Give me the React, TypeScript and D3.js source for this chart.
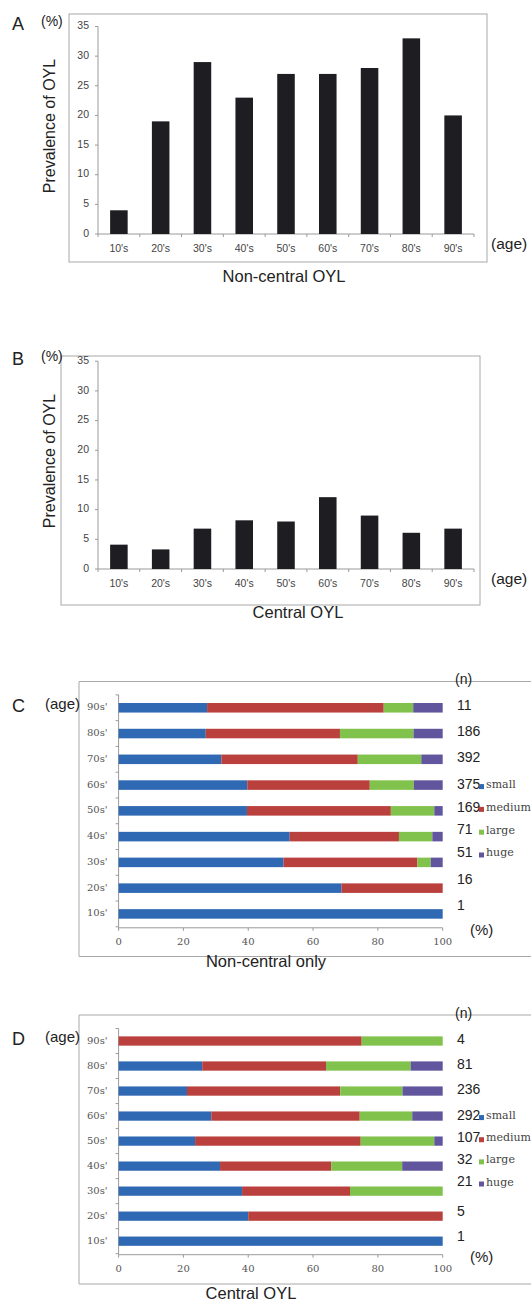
import React from 'react';
import * as d3 from 'd3';

// ---------- DATA ----------
const ageDecades = ["10's", "20's", "30's", "40's", "50's", "60's", "70's", "80's", "90's"];
const nonCentralPrevalence = [4, 19, 29, 23, 27, 27, 28, 33, 20];
const centralPrevalence = [4.1, 3.3, 6.8, 8.2, 8.0, 12.1, 9.0, 6.1, 6.8];
const prevalenceTicks = [0, 5, 10, 15, 20, 25, 30, 35];

const sizeAges = ["10s'", "20s'", "30s'", "40s'", "50s'", "60s'", "70s'", "80s'", "90s'"];
const sizeKeys = ["small", "medium", "large", "huge"];
const percentTicks = [0, 20, 40, 60, 80, 100];

// Non-central only (percent of each size class per age group)
const ncSmall = [100, 68.8, 50.9, 52.8, 39.6, 39.7, 31.7, 26.9, 27.3];
const ncMedium = [0, 31.2, 41.3, 33.7, 44.4, 37.8, 42.1, 41.4, 54.5];
const ncLarge = [0, 0, 4.1, 10.3, 13.4, 13.6, 19.6, 22.7, 9.1];
const ncHuge = [0, 0, 3.7, 3.2, 2.6, 8.9, 6.6, 9.0, 9.1];
const ncN = [1, 16, 51, 71, 169, 375, 392, 186, 11];

// Central OYL
const cSmall = [100, 40, 38.1, 31.3, 23.6, 28.6, 21.1, 25.8, 0];
const cMedium = [0, 60, 33.3, 34.3, 51.1, 45.8, 47.3, 38.2, 75];
const cLarge = [0, 0, 28.6, 21.9, 22.7, 16.2, 19.2, 26.1, 25];
const cHuge = [0, 0, 0, 12.5, 2.6, 9.4, 12.4, 9.9, 0];
const cN = [1, 5, 21, 32, 107, 292, 236, 81, 4];

// ---------- STYLE ----------
const SANS = "'Liberation Sans', Arial, sans-serif";
const SERIF = "'DejaVu Serif', serif";
const sizeColors = ['#3069b3', '#b9403d', '#80c24c', '#61569e'];
const barDark = '#1e1e22';
const frameColor = '#a8a8a8';
const axisColor = '#9a9a9a';

type BarProps = {
  values: number[];
  letter: string;
  title: string;
  frame: { x: number; y: number; w: number; h: number };
  xRange: [number, number];
  yRange: [number, number];
  titleX: number;
  titleY: number;
  yLabelY: number;
};

function PrevalenceChart(p: BarProps) {
  const x = d3.scaleBand<string>().domain(ageDecades).range(p.xRange).paddingInner(0.58).paddingOuter(0.29);
  const y = d3.scaleLinear().domain([0, 35]).range(p.yRange);
  const step = x.step();
  const boundaries = d3.range(ageDecades.length + 1).map((i) => p.xRange[0] + i * step);
  const y0 = y(0);
  return (
    <g>
      <rect x={p.frame.x} y={p.frame.y} width={p.frame.w} height={p.frame.h} fill="none" stroke={frameColor} strokeWidth={1} />
      <text x={12} y={p.yRange[1] - 1} fontFamily={SANS} fontSize={18} dominantBaseline="middle" fill="#222">{p.letter}</text>
      <text x={41} y={p.yRange[1] - 4} fontFamily={SANS} fontSize={14} dominantBaseline="middle" fill="#222">(%)</text>
      <text transform={`translate(51,${p.yLabelY}) rotate(-90)`} fontFamily={SANS} fontSize={16} textAnchor="middle" dominantBaseline="middle" fill="#222">Prevalence of OYL</text>
      {/* y axis */}
      <line x1={p.xRange[0]} x2={p.xRange[0]} y1={y(35)} y2={y0} stroke={axisColor} />
      {prevalenceTicks.map((t) => (
        <g key={t}>
          <line x1={p.xRange[0] - 3} x2={p.xRange[0]} y1={y(t)} y2={y(t)} stroke={axisColor} />
          <text x={p.xRange[0] - 9} y={y(t)} fontFamily={SANS} fontSize={10.5} textAnchor="end" dominantBaseline="middle" fill="#444">{t}</text>
        </g>
      ))}
      {/* x axis */}
      <line x1={p.xRange[0]} x2={p.xRange[1]} y1={y0} y2={y0} stroke={axisColor} />
      {boundaries.map((b, i) => (
        <line key={i} x1={b} x2={b} y1={y0} y2={y0 + 3} stroke={axisColor} />
      ))}
      {ageDecades.map((a, i) => (
        <g key={a}>
          <rect x={x(a)} y={y(p.values[i])} width={x.bandwidth()} height={y0 - y(p.values[i])} fill={barDark} />
          <text x={(x(a) as number) + x.bandwidth() / 2} y={y0 + 15} fontFamily={SANS} fontSize={10.5} textAnchor="middle" dominantBaseline="middle" fill="#444">{a}</text>
        </g>
      ))}
      <text x={491} y={y0 + 11} fontFamily={SANS} fontSize={15.5} dominantBaseline="middle" fill="#222">(age)</text>
      <text x={p.titleX} y={p.titleY} fontFamily={SANS} fontSize={16.5} textAnchor="middle" dominantBaseline="middle" fill="#222">{p.title}</text>
    </g>
  );
}

type SizeProps = {
  letter: string;
  title: string;
  series: number[][];
  n: number[];
  frame: { x: number; y: number; w: number; h: number };
  xRange: [number, number];
  yRange: [number, number];
  titleX: number;
  titleY: number;
  lowShift: number;
};

function SizeChart(p: SizeProps) {
  const order = sizeAges.slice().reverse();
  const y = d3.scaleBand<string>().domain(order).range(p.yRange).paddingInner(0.63).paddingOuter(0.315);
  const x = d3.scaleLinear().domain([0, 100]).range(p.xRange);
  const stacked = sizeAges.map((age, i) => {
    let acc = 0;
    return sizeKeys.map((k, s) => {
      const v = p.series[s][i];
      const seg = { key: k, x0: acc, x1: acc + v, color: sizeColors[s] };
      acc += v;
      return seg;
    });
  });
  const step = y.step();
  const axisY = p.yRange[1] + 1;
  const boundaries = d3.range(sizeAges.length + 1).map((i) => p.yRange[0] + i * step);
  const center = (a: string) => (y(a) as number) + y.bandwidth() / 2;
  const legendStep = step * 0.885;
  const legendTop = center("60s'");
  const nY = (a: string) => {
    const idx = order.indexOf(a);
    if (idx < 3) return center(a) - 1;
    if (idx < 7) return legendTop + (idx - 3) * legendStep;
    return center(a) + p.lowShift;
  };
  return (
    <g>
      <path d={`M${p.frame.x + p.frame.w},${p.frame.y}H${p.frame.x}V${p.frame.y + p.frame.h}H${p.frame.x + p.frame.w}`} fill="none" stroke={frameColor} />
      <text x={12} y={center("90s'") - 1} fontFamily={SANS} fontSize={18} dominantBaseline="middle" fill="#222">{p.letter}</text>
      <text x={45} y={center("90s'") - 3} fontFamily={SANS} fontSize={15} dominantBaseline="middle" fill="#222">(age)</text>
      <line x1={p.xRange[0]} x2={p.xRange[0]} y1={p.yRange[0]} y2={axisY} stroke={axisColor} />
      {boundaries.map((b, i) => (
        <line key={i} x1={p.xRange[0] - 3} x2={p.xRange[0]} y1={b} y2={b} stroke={axisColor} />
      ))}
      <line x1={p.xRange[0]} x2={p.xRange[1]} y1={axisY} y2={axisY} stroke={axisColor} />
      {percentTicks.map((t) => (
        <g key={t}>
          <line x1={x(t)} x2={x(t)} y1={axisY} y2={axisY + 3} stroke={axisColor} />
          <text x={x(t)} y={axisY + 15} fontFamily={SERIF} fontSize={10} textAnchor="middle" dominantBaseline="middle" fill="#555">{t}</text>
        </g>
      ))}
      {sizeAges.map((a, i) => (
        <g key={a}>
          <text x={p.xRange[0] - 11} y={center(a)} fontFamily={SERIF} fontSize={10} textAnchor="end" dominantBaseline="middle" fill="#555">{a}</text>
          {stacked[i].filter((s) => s.x1 > s.x0).map((s) => (
            <rect key={s.key} x={x(s.x0)} y={y(a)} width={x(s.x1) - x(s.x0)} height={y.bandwidth()} fill={s.color} />
          ))}
          <text x={457} y={nY(a)} fontFamily={SANS} fontSize={14} dominantBaseline="middle" fill="#222">{p.n[i]}</text>
        </g>
      ))}
      <text x={455} y={p.frame.y - 1} fontFamily={SANS} fontSize={14} dominantBaseline="middle" fill="#222">(n)</text>
      <text x={470} y={axisY + 3} fontFamily={SANS} fontSize={15} dominantBaseline="middle" fill="#222">(%)</text>
      {sizeKeys.map((k, s) => (
        <g key={k}>
          <rect x={479} y={legendTop + s * legendStep - 1} width={5} height={5} fill={sizeColors[s]} />
          <text x={486} y={legendTop + s * legendStep} fontFamily={SERIF} fontSize={11} dominantBaseline="middle" fill="#444">{k}</text>
        </g>
      ))}
      <text x={p.titleX} y={p.titleY} fontFamily={SANS} fontSize={16.5} textAnchor="middle" dominantBaseline="middle" fill="#222">{p.title}</text>
    </g>
  );
}

export default function App() {
  return (
    <svg width={531} height={1301} style={{ position: 'absolute', left: 0, top: 0, background: '#fff' }}>
      <rect width={531} height={1301} fill="#fff" />
      <PrevalenceChart
        values={nonCentralPrevalence}
        letter="A"
        title="Non-central OYL"
        frame={{ x: 69, y: 14, w: 418, h: 248 }}
        xRange={[98, 474]}
        yRange={[234, 26.5]}
        titleX={284}
        titleY={278}
        yLabelY={126}
      />
      <PrevalenceChart
        values={centralPrevalence}
        letter="B"
        title="Central OYL"
        frame={{ x: 61, y: 356, w: 419, h: 249 }}
        xRange={[98, 474]}
        yRange={[569, 361.2]}
        titleX={298}
        titleY={614}
        yLabelY={461}
      />
      <SizeChart
        letter="C"
        title="Non-central only"
        series={[ncSmall, ncMedium, ncLarge, ncHuge]}
        n={ncN}
        frame={{ x: 79, y: 681.5, w: 470, h: 275 }}
        xRange={[118.6, 442.7]}
        yRange={[694.9, 926.8]}
        titleX={266}
        titleY={962.5}
        lowShift={-8}
      />
      <SizeChart
        letter="D"
        title="Central OYL"
        series={[cSmall, cMedium, cLarge, cHuge]}
        n={cN}
        frame={{ x: 79, y: 1015, w: 470, h: 269 }}
        xRange={[118.6, 442.7]}
        yRange={[1028.5, 1253.7]}
        titleX={251}
        titleY={1295}
        lowShift={-4}
      />
    </svg>
  );
}
